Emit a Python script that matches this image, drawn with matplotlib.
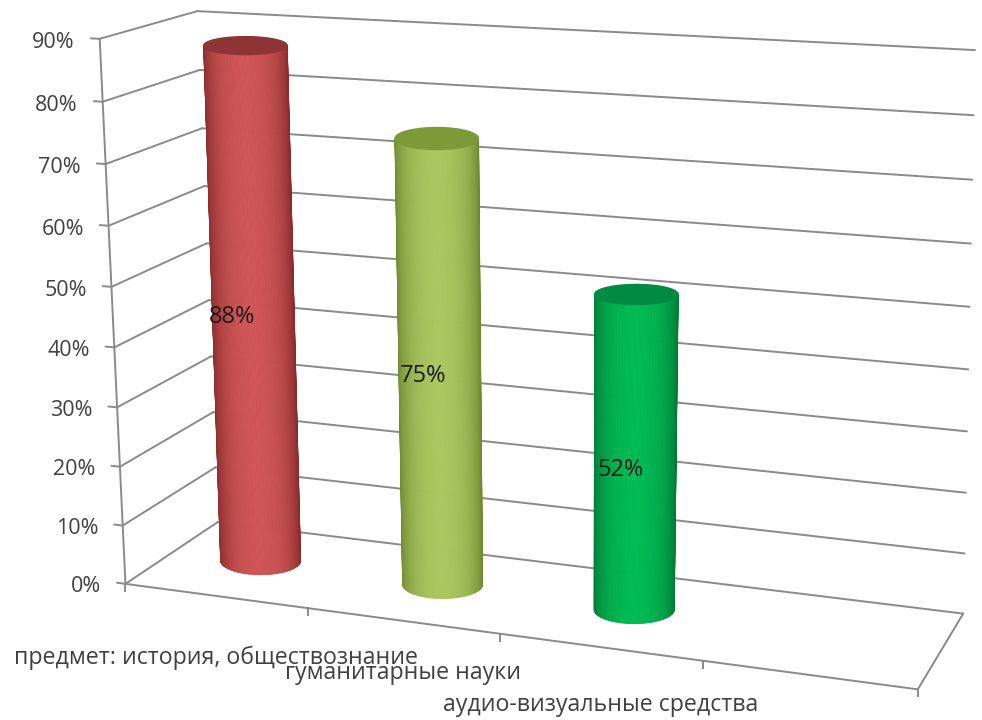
import matplotlib
matplotlib.use('Agg')
import matplotlib.pyplot as plt
from matplotlib.collections import PolyCollection
from matplotlib.colors import to_rgb
import numpy as np

# the original has a fourth, empty category slot on the right
categories = ['предмет: история, обществознание', 'гуманитарные науки', 'аудио-визуальные средства', '']
values = [88, 75, 52]
tick_values = [0, 10, 20, 30, 40, 50, 60, 70, 80, 90]
y_max = 90

centre_colors = ['#CF5555', '#A9C75E', '#00BA52']
edge_colors = ['#8A2C2C', '#6E8A32', '#007A36']
cap_colors = ['#8E3434', '#7C9B38', '#008A42']
cap_half_height = [9, 11, 10]
label_dx = [-23, -19, -17]
label_dy = [9, 11, 16]
grid_color = '#8A8A8A'
text_color = '#404040'

plt.rcParams['font.family'] = ['Open Sans', 'DejaVu Sans']

# box corners (x along categories, d into the page, v up) and where they land on the page
box = [(0, 0, 0), (1, 0, 0), (0, 1, 0), (1, 1, 0), (0, 0, 1), (0, 1, 1), (1, 1, 1)]
page = [(125, 584), (918, 689), (218, 522), (963, 614), (100, 39), (197, 11), (975, 50)]


def fit_camera(box, page):
    A = []
    b = []
    for (x, d, v), (px, py) in zip(box, page):
        A.append([x, d, v, 1, 0, 0, 0, 0, -px*x, -px*d, -px*v])
        A.append([0, 0, 0, 0, x, d, v, 1, -py*x, -py*d, -py*v])
        b += [px, py]
    m = np.linalg.lstsq(np.array(A, float), np.array(b, float), rcond=None)[0]
    return np.append(m, 1).reshape(3, 4)


cam = fit_camera(box, page)


def proj(x, d, v):
    x, d, v = np.broadcast_arrays(x, d, v)
    pts = np.stack([x, d, v, np.ones(x.shape)])
    q = np.tensordot(cam, pts, axes=1)
    return q[0]/q[2], q[1]/q[2]


fig = plt.figure(figsize=(9.82, 7.2), dpi=100)
ax = fig.add_axes([0, 0, 1, 1])
ax.set_xlim(0, 982)
ax.set_ylim(720, 0)
ax.axis('off')


def line3(a, b, lw=1.4):
    px, py = proj(np.array([a[0], b[0]]), np.array([a[1], b[1]]), np.array([a[2], b[2]]))
    ax.plot(px, py, color=grid_color, lw=lw, zorder=1, solid_capstyle='round')


# walls
for t in tick_values:
    v = t / y_max
    line3((0, 0, v), (0, 1, v))
    line3((0, 1, v), (1, 1, v))
    line3((-0.012, 0, v), (0, 0, v))
    px, py = proj(-0.012, 0, v)
    ax.text(px - 16, py + 4, f'{t}%', ha='right', va='center', fontsize=15.5, color=text_color)

line3((0, 0, 0), (0, 0, 1))
line3((0, 0, 0), (1, 0, 0))
line3((1, 0, 0), (1, 1, 0))

# category ticks
n = len(categories)
for i in range(n + 1):
    px, py = proj(i / n, 0, 0)
    ax.plot([px, px], [py, py + 7], color=grid_color, lw=1.4, zorder=1)

# category labels are staggered the way the original is
label_y = [658, 673, 705]
for i, name in enumerate(categories[:3]):
    px, py = proj((i + 0.5) / n, 0, 0)
    ax.text(px, label_y[i], name, ha='center', va='center', fontsize=16.7, color=text_color)

# cylinders, both end ellipses are level on the page so the sides stay straight
radius_d = 0.18
lean = 0.005
cap_half_width = 41.8
base_half_width = 40.0
base_half_height = 14
theta = np.linspace(np.pi, 2 * np.pi, 81)
full = np.linspace(0, 2 * np.pi, 121)
for i, val in enumerate(values):
    cx = (i + 0.5) / n
    top = val / y_max
    base_x = proj(cx, 0.5, 0)[0]
    base_y = proj(cx, 0.5 - radius_d, 0)[1] - base_half_height
    bx = base_x + base_half_width * np.cos(theta)
    by = base_y - base_half_height * np.sin(theta)
    cap_x = proj(cx + lean, 0.5, top)[0]
    cap_y = proj(cx + lean, 0.5 + radius_d, top)[1] + cap_half_height[i]
    tx = cap_x + cap_half_width * np.cos(theta)
    ty = cap_y - cap_half_height[i] * np.sin(theta)
    # shade from the edge colour to the centre colour and back
    c0 = np.array(to_rgb(edge_colors[i]))
    c1 = np.array(to_rgb(centre_colors[i]))
    mid = (theta[:-1] + theta[1:]) / 2
    s = np.sin(mid - np.pi) ** 1.3
    rgb = c0 + (c1 - c0) * s[:, None]
    strips = [[(tx[j], ty[j]), (tx[j+1], ty[j+1]), (bx[j+1], by[j+1]), (bx[j], by[j])]
              for j in range(len(mid))]
    body = PolyCollection(strips, facecolors=rgb, edgecolors=rgb, linewidths=0.6, zorder=3)
    body.set_snap(False)
    ax.add_collection(body)
    # cap
    ax.fill(cap_x + cap_half_width * np.cos(full), cap_y + cap_half_height[i] * np.sin(full),
            color=cap_colors[i], zorder=4)
    # data label sits left of the bar centre, halfway up
    lx, ly = proj(cx + lean, 0.5, top / 2)
    ax.text(lx + label_dx[i], ly + label_dy[i], f'{val}%', ha='center', va='center',
            fontsize=17, color='#1a1a1a', zorder=5)

fig.savefig('out.png', dpi=100)
